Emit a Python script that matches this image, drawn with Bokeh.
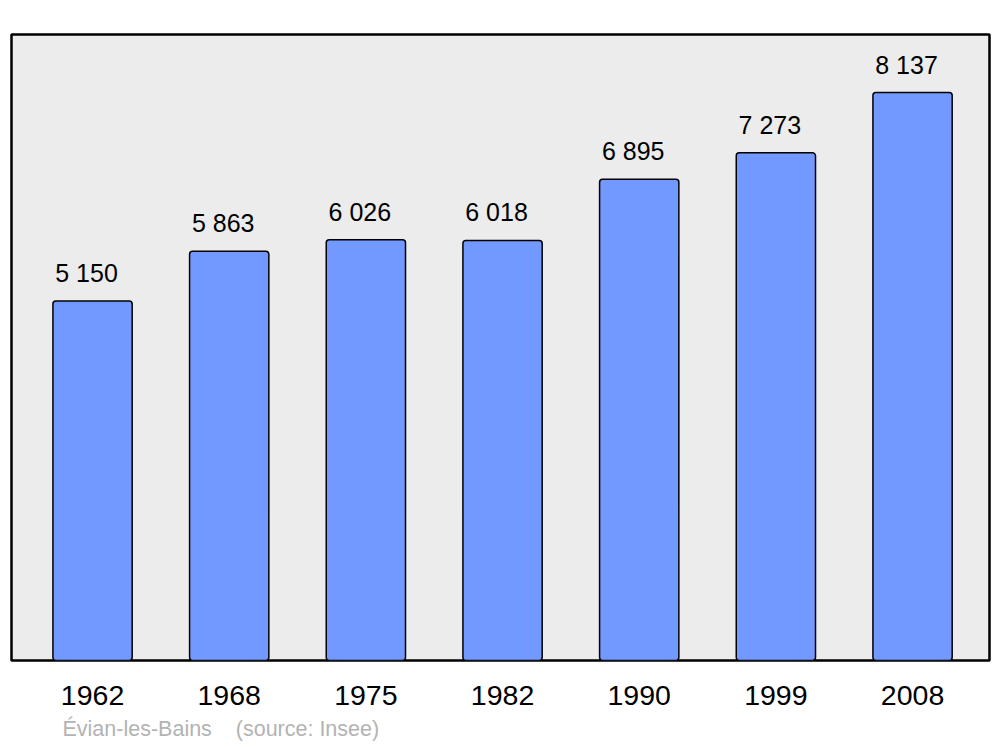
from bokeh.plotting import figure
from bokeh.models import FixedTicker, Title, ColumnDataSource, Range1d
from bokeh.core.properties import value
from bokeh.embed import file_html
from bokeh.resources import INLINE

years = ["1962", "1968", "1975", "1982", "1990", "1999", "2008"]
population = [5150, 5863, 6026, 6018, 6895, 7273, 8137]
value_labels = ["5 150", "5 863", "6 026", "6 018", "6 895", "7 273", "8 137"]
footer = "Évian-les-Bains\u00a0\u00a0\u00a0\u00a0(source: Insee)"

idx = list(range(len(years)))
src = ColumnDataSource(dict(x=idx, y=population, lab=value_labels))

FONT = "Liberation Sans"

p = figure(frame_width=978, frame_height=626, output_backend="svg",
           toolbar_location=None, y_axis_location=None,
           x_range=Range1d(-0.593, 6.563), y_range=Range1d(0, 8968),
           min_border_left=11, min_border_right=11, min_border_top=34,
           min_border_bottom=0)
p.background_fill_color = "#ececec"
p.border_fill_color = "white"
p.outline_line_color = "black"
p.outline_line_width = 2.5
p.xgrid.visible = False
p.ygrid.visible = False

p.vbar(x="x", top="y", bottom=0, width=0.58, source=src,
       fill_color="#7299ff", line_color="black", line_width=1.5,
       border_radius=3)

p.text(x="x", y="y", text="lab", source=src, text_align="center",
       text_baseline="alphabetic", y_offset=-28, x_offset=-6,
       text_font=value(FONT), text_font_size="25px", text_color="black")

ax = p.xaxis[0]
ax.ticker = FixedTicker(ticks=idx)
ax.major_label_overrides = {i: y for i, y in zip(idx, years)}
ax.axis_line_color = None
ax.major_tick_line_color = None
ax.minor_tick_line_color = None
ax.major_tick_out = 0
ax.major_tick_in = 0
ax.major_label_standoff = 25
ax.major_label_text_font = FONT
ax.major_label_text_font_size = "28.5px"
ax.major_label_text_color = "black"

t = Title(text=footer, align="left", offset=51, text_font=FONT,
          text_font_size="21.5px", text_color="#b3b3b3", text_font_style="normal",
          standoff=14)
p.add_layout(t, "below")

open("out.html", "w").write(file_html(p, INLINE))
